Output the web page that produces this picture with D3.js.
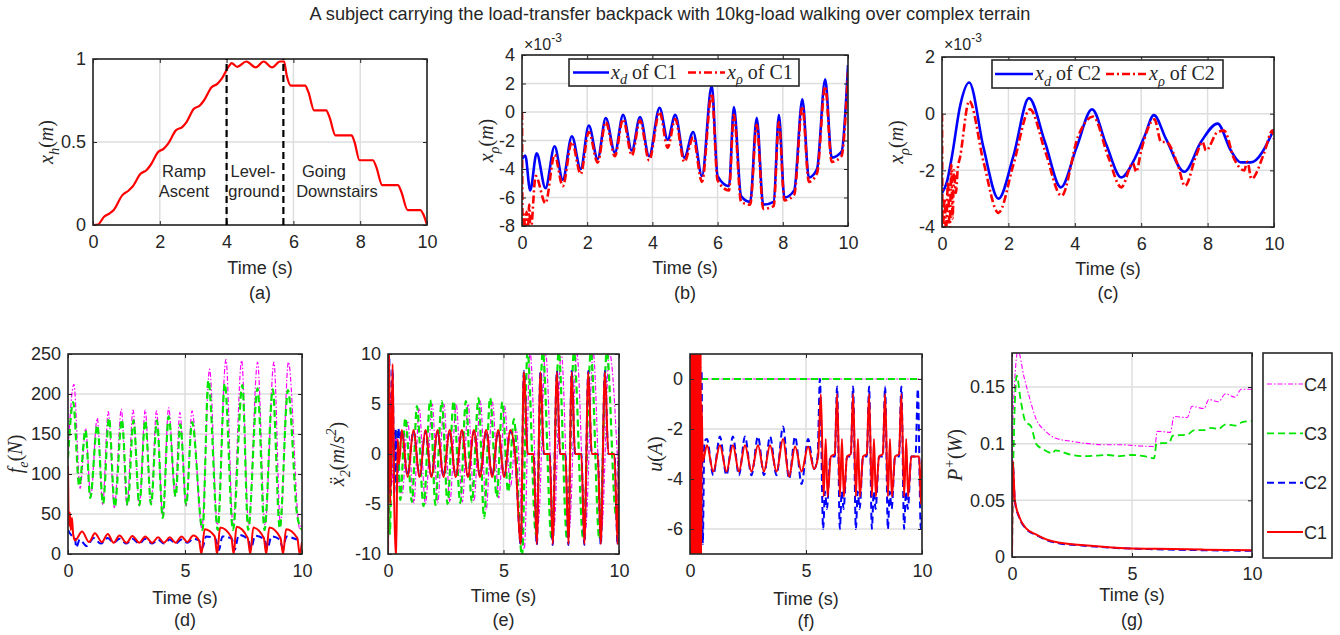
<!DOCTYPE html>
<html>
<head>
<meta charset="utf-8">
<script src="https://cdn.jsdelivr.net/npm/d3@7"></script>
<style>
body { margin: 0; background: #fff; }
text { font-family: "Liberation Sans", Arial, Helvetica, sans-serif; fill: #262626; }
</style>
</head>
<body>
<script>
// ---- data: [time (s), value] ----
var titleText = "A subject carrying the load-transfer backpack with 10kg-load walking over complex terrain";

// (a) x_h
var xhData = [[0,0],[0.15,0.003],[0.33,0.05],[0.5,0.07],[0.62,0.09],[0.88,0.18],[1.05,0.205],[1.18,0.23],[1.43,0.31],[1.6,0.33],[1.72,0.36],[1.95,0.44],[2.12,0.46],[2.25,0.49],[2.48,0.57],[2.67,0.59],[2.8,0.62],[3.02,0.70],[3.2,0.72],[3.32,0.75],[3.55,0.83],[3.72,0.85],[3.85,0.88],[4.08,0.96],[4.15,0.975],[4.32,0.953],[4.59,0.985],[4.87,0.95],[5.11,0.985],[5.36,0.95],[5.6,0.985],[5.72,0.985],[5.8,0.9],[5.92,0.84],[6.35,0.84],[6.45,0.8],[6.62,0.69],[6.98,0.69],[7.08,0.65],[7.26,0.54],[7.74,0.54],[7.83,0.5],[7.98,0.39],[8.38,0.39],[8.48,0.35],[8.66,0.24],[9.13,0.24],[9.23,0.2],[9.42,0.09],[9.8,0.09],[9.9,0.06],[10,0]];
var phaseLines = [4, 5.7];

// (b) x 1e-3
var bXd = [[0,-3.3],[0.1,-3.05],[0.25,-5.5],[0.45,-2.9],[0.72,-5.35],[1.0,-2.4],[1.25,-4.75],[1.53,-1.7],[1.8,-4.0],[2.05,-0.95],[2.32,-3.3],[2.57,-0.42],[2.85,-2.85],[3.1,-0.2],[3.37,-2.7],[3.62,-0.35],[3.9,-3.1],[4.22,0.3],[4.47,-1.95],[4.7,-0.2],[4.98,-3.2],[5.25,-1.4],[5.52,-4.5],[5.82,1.85],[6.0,-4.5],[6.35,-5.2],[6.5,0.35],[6.72,-5.9],[7.0,-6.3],[7.2,-0.4],[7.4,-6.5],[7.72,-6.3],[7.88,-0.2],[8.05,-6.0],[8.35,-5.5],[8.6,0.9],[8.8,-4.6],[9.05,-4.0],[9.3,2.3],[9.5,-3.2],[9.8,-2.8],[10,3.3]];
var bXr = [[0,0],[0.02,-8.5],[0.06,-7.2],[0.1,-8.5],[0.14,-7.0],[0.18,-8.5],[0.22,-6.5],[0.26,-8.5],[0.42,-4.5],[0.72,-6.4],[1.0,-3.0],[1.25,-5.2],[1.53,-2.1],[1.8,-4.35],[2.05,-1.4],[2.32,-3.55],[2.57,-0.7],[2.85,-3.1],[3.1,-0.5],[3.37,-3.05],[3.62,-0.6],[3.9,-3.4],[4.22,0.0],[4.47,-2.5],[4.7,-0.5],[4.98,-3.5],[5.25,-1.8],[5.52,-4.9],[5.82,1.3],[6.0,-4.8],[6.35,-5.5],[6.5,-0.2],[6.72,-6.3],[7.0,-6.5],[7.2,-0.9],[7.4,-6.8],[7.72,-6.6],[7.88,-0.7],[8.05,-6.2],[8.35,-5.8],[8.6,0.4],[8.8,-4.9],[9.05,-4.3],[9.3,1.8],[9.5,-3.5],[9.8,-3.1],[10,2.8]];

// (c) x 1e-3
var cXd = [[0,-2.8],[0.15,-2.4],[0.3,-1.5],[0.55,0.3],[0.82,1.1],[1.25,-1.2],[1.7,-3.0],[2.15,-1.5],[2.62,0.55],[3.1,-1.0],[3.58,-2.6],[4.05,-1.2],[4.52,0.15],[4.95,-1.1],[5.4,-2.25],[5.8,-1.6],[6.1,-0.8],[6.38,-0.05],[6.75,-0.9],[7.3,-2.05],[7.8,-1.0],[8.3,-0.35],[8.7,-1.3],[9.0,-1.72],[9.3,-1.72],[10,-0.55]];
var cXr = [[0,0],[0.02,-4.2],[0.08,-3.0],[0.12,-4.2],[0.18,-2.4],[0.23,-4.2],[0.28,-1.8],[0.32,-3.7],[0.36,-2.0],[0.42,-2.8],[0.47,-2.0],[0.55,-1.5],[0.82,0.45],[1.25,-1.7],[1.7,-3.5],[2.15,-1.8],[2.65,0.15],[3.1,-1.3],[3.6,-2.9],[4.1,-0.8],[4.55,-0.1],[5.0,-1.5],[5.4,-2.6],[5.75,-1.75],[5.85,-2.05],[6.0,-1.3],[6.4,-0.2],[6.6,-1.0],[6.75,-1.0],[7.1,-1.8],[7.32,-2.55],[7.65,-1.5],[7.85,-1.0],[7.95,-1.3],[8.3,-0.65],[8.5,-0.6],[8.8,-1.6],[9.1,-2.0],[9.2,-1.7],[9.32,-2.3],[9.7,-1.4],[9.95,-0.6],[10,-0.9]];

// (d) f_e
var dC4 = [[0,130],[0.25,212],[0.52,82],[0.75,157],[0.97,72],[1.25,170],[1.48,62],[1.72,178],[1.98,58],[2.28,181],[2.52,60],[2.78,180],[3.05,60],[3.3,180],[3.55,62],[3.78,179],[4.05,48],[4.3,183],[4.58,72],[4.78,177],[5.05,60],[5.3,179],[5.72,32],[6.05,231],[6.38,36],[6.75,243],[7.05,36],[7.42,242],[7.72,36],[8.1,240],[8.42,36],[8.8,240],[9.08,36],[9.42,240],[9.9,32],[10,40]];
var dC3 = [[0,120],[0.22,190],[0.48,85],[0.75,155],[0.95,70],[1.25,161],[1.5,63],[1.75,170],[2.0,59],[2.3,168],[2.55,61],[2.8,167],[3.05,61],[3.3,167],[3.55,62],[3.8,167],[4.05,45],[4.3,172],[4.6,72],[4.8,162],[5.05,61],[5.3,165],[5.75,30],[6.0,217],[6.4,30],[6.7,213],[7.05,30],[7.45,211],[7.7,30],[8.1,207],[8.4,30],[8.75,206],[9.05,32],[9.4,205],[9.8,47],[10,30]];
var dC2 = [[0,30],[0.1,25],[0.2,22],[0.3,20],[0.35,8],[0.5,18],[0.8,10],[1.1,20],[1.4,13],[1.7,20],[1.95,14],[2.2,19],[2.5,13],[2.75,19],[3.05,13],[3.3,19],[3.6,13],[3.85,18],[4.1,13],[4.35,18],[4.6,13],[4.85,18],[5.1,14],[5.35,19],[5.6,17],[5.75,8],[5.9,22],[6.3,19],[6.45,5],[6.6,22],[7.0,19],[7.12,5],[7.3,24],[7.7,18],[7.82,7],[8.0,23],[8.4,18],[8.52,7],[8.7,22],[9.05,18],[9.17,8],[9.35,22],[9.85,18],[10,20]];
var dC1 = [[0,110],[0.04,35],[0.08,52],[0.12,30],[0.17,45],[0.22,25],[0.3,17],[0.6,28],[0.9,15],[1.15,26],[1.45,15],[1.7,25],[1.95,14],[2.2,23],[2.5,14],[2.75,22.5],[3.05,14],[3.3,22],[3.6,14],[3.85,21],[4.1,14],[4.35,21],[4.6,14],[4.85,22],[5.1,15],[5.35,23],[5.6,17],[5.7,0],[5.84,31],[6.27,22],[6.37,0],[6.5,33],[6.98,21],[7.08,0],[7.2,34],[7.68,20],[7.79,0],[7.92,33],[8.37,20],[8.47,0],[8.6,33],[9.08,20],[9.19,0],[9.32,31],[9.8,20],[9.9,0],[10,15]];

// (e) x2 double-dot
var eC4 = [[0,-6],[0.1,6],[0.22,-3],[0.35,2],[0.5,-3.5],[0.62,-4],[0.85,3.3],[1.12,-4.9],[1.35,4.6],[1.62,-5],[1.92,5.0],[2.15,-4.9],[2.42,5.0],[2.68,-4.8],[2.95,5.0],[3.22,-4.8],[3.47,5.0],[3.72,-4.7],[4.0,5.3],[4.25,-5.6],[4.52,5.2],[4.8,-4.4],[5.05,4.8],[5.3,-3.3],[5.55,2.5],[5.9,-9.5],[6.15,10.2],[6.5,-7],[6.82,10.2],[7.18,-7.5],[7.5,10.2],[7.85,-7.5],[8.17,10.2],[8.55,-7.5],[8.88,10.2],[9.25,-7.5],[9.58,10.2],[10,-4]];
var eC3 = [[0,8],[0.08,-8],[0.18,4],[0.3,-3],[0.42,2.5],[0.53,-4.6],[0.75,3.6],[1.04,-4.8],[1.25,4.8],[1.54,-5.2],[1.83,5.4],[2.05,-5.1],[2.33,5.3],[2.58,-5.0],[2.84,5.3],[3.13,-4.9],[3.37,5.3],[3.63,-4.8],[3.92,5.6],[4.16,-6.4],[4.42,5.6],[4.71,-4.3],[4.95,5.2],[5.2,-3.8],[5.45,3.5],[5.8,-10.2],[6.04,10.2],[6.4,-8],[6.7,10.2],[7.08,-8.5],[7.39,10.2],[7.75,-8.5],[8.05,10.2],[8.45,-8.5],[8.78,10.2],[9.15,-8.5],[9.47,10.2],[9.85,-6],[10,-7]];
var eC2 = [[0,-10.5],[0.05,10.5],[0.1,-4],[0.2,8.5],[0.27,-4],[0.33,2.5],[0.38,-3.5],[0.45,2.6],[0.5,1.5],[0.6,2.3],[0.85,-2.2],[1.1,2.3],[1.37,-2.2],[1.62,2.3],[1.88,-2.2],[2.15,2.3],[2.4,-2.2],[2.67,2.3],[2.93,-2.2],[3.2,2.3],[3.46,-2.2],[3.72,2.3],[3.98,-2.2],[4.25,2.3],[4.51,-2.2],[4.77,2.3],[5.03,-2.2],[5.3,2.3],[5.5,0],[5.75,-9.1],[5.88,8.3],[6.05,0],[6.3,0],[6.44,-9.1],[6.6,8.3],[6.75,0],[7.0,0],[7.13,-9.1],[7.31,8.3],[7.45,0],[7.68,0],[7.81,-9.1],[7.95,8.3],[8.1,0],[8.37,0],[8.5,-9.1],[8.67,8.3],[8.82,0],[9.08,0],[9.21,-9.1],[9.39,8.3],[9.54,0],[9.8,0],[9.94,-9.1],[10,3]];
var eC1 = [[0,-10.5],[0.05,10.5],[0.1,-5],[0.2,9],[0.27,-5],[0.35,-10.5],[0.42,1.5],[0.48,-1],[0.6,2.4],[0.85,-2.3],[1.1,2.4],[1.37,-2.3],[1.62,2.4],[1.88,-2.3],[2.15,2.4],[2.4,-2.3],[2.67,2.4],[2.93,-2.3],[3.2,2.4],[3.46,-2.3],[3.72,2.4],[3.98,-2.3],[4.25,2.4],[4.51,-2.3],[4.77,2.4],[5.03,-2.3],[5.3,2.4],[5.5,0],[5.75,-9],[5.88,8.2],[6.05,0],[6.3,0],[6.44,-9],[6.6,8.2],[6.75,0],[7.0,0],[7.13,-9],[7.31,8.2],[7.45,0],[7.68,0],[7.81,-9],[7.95,8.2],[8.1,0],[8.37,0],[8.5,-9],[8.67,8.2],[8.82,0],[9.08,0],[9.21,-9],[9.39,8.2],[9.54,0],[9.8,0],[9.94,-9],[10,2]];

// (f) u
var fC4 = [[0,0],[10,0]];
var fC3 = [[0,0],[10,0]];
var fC2 = [[0,-6],[0.08,0.5],[0.16,-6.5],[0.24,0.5],[0.32,-6.5],[0.4,0.5],[0.5,0.3],[0.55,-6.6],[0.62,-2.5],[0.73,-2.4],[1.0,-3.85],[1.29,-2.3],[1.57,-3.85],[1.85,-2.3],[2.11,-3.85],[2.37,-2.3],[2.65,-3.85],[2.93,-2.3],[3.19,-3.85],[3.45,-2.3],[3.73,-3.85],[4.01,-1.9],[4.27,-4.0],[4.53,-2.3],[4.81,-4.2],[5.09,-2.4],[5.35,-3.6],[5.5,-3.1],[5.6,0],[5.74,-6],[5.82,-4.5],[5.9,-5.2],[6.05,-3.1],[6.24,-3.1],[6.34,-0.3],[6.46,-6],[6.54,-4.5],[6.62,-5.2],[6.77,-3.1],[6.93,-3.1],[7.03,-0.3],[7.15,-6],[7.23,-4.5],[7.31,-5.2],[7.46,-3.1],[7.62,-3.1],[7.72,-0.3],[7.84,-6],[7.92,-4.5],[8.0,-5.2],[8.15,-3.1],[8.31,-3.1],[8.41,-0.3],[8.53,-6],[8.61,-4.5],[8.69,-5.2],[8.84,-3.1],[9.01,-3.1],[9.11,-0.3],[9.23,-6],[9.31,-4.5],[9.39,-5.2],[9.54,-3.1],[9.72,-3.1],[9.82,-0.4],[9.95,-6],[10,-5.5]];
var fC1 = [[0,-7.5],[0.02,1.5],[0.04,-7.5],[0.06,1.5],[0.08,-7.5],[0.1,1.5],[0.12,-7.5],[0.14,1.5],[0.16,-7.5],[0.18,1.5],[0.2,-7.5],[0.22,1.5],[0.24,-7.5],[0.26,1.5],[0.28,-7.5],[0.3,1.5],[0.32,-7.5],[0.34,1.5],[0.36,-7.5],[0.38,1.5],[0.4,-7.5],[0.42,1.5],[0.44,-7.5],[0.46,1.5],[0.48,-7.5],[0.5,-1],[0.55,-3.3],[0.73,-2.65],[1.0,-3.7],[1.29,-2.65],[1.57,-3.7],[1.85,-2.65],[2.11,-3.7],[2.37,-2.65],[2.65,-3.7],[2.93,-2.65],[3.19,-3.7],[3.45,-2.65],[3.73,-3.7],[4.01,-2.4],[4.27,-3.9],[4.53,-2.7],[4.81,-3.7],[5.09,-2.7],[5.35,-3.6],[5.52,-3.1],[5.64,-0.6],[5.76,-4.7],[5.85,-2.4],[5.93,-4.7],[6.07,-3.1],[6.24,-3.0],[6.34,-0.6],[6.46,-4.7],[6.55,-2.4],[6.63,-4.7],[6.77,-3.1],[6.93,-3.0],[7.03,-0.6],[7.15,-4.7],[7.24,-2.4],[7.32,-4.7],[7.46,-3.1],[7.62,-3.0],[7.72,-0.6],[7.84,-4.7],[7.93,-2.4],[8.01,-4.7],[8.15,-3.1],[8.31,-3.0],[8.41,-0.6],[8.53,-4.7],[8.62,-2.4],[8.7,-4.7],[8.84,-3.1],[9.01,-3.0],[9.11,-0.6],[9.23,-4.7],[9.32,-2.4],[9.4,-4.7],[9.54,-3.1],[9.88,-3.1],[9.95,-5],[10,-3.2]];

// (g) P+
var gC4 = [[0,0],[0.02,0.104],[0.1,0.15],[0.25,0.182],[0.5,0.159],[0.75,0.139],[1.0,0.122],[1.4,0.111],[1.8,0.105],[2.5,0.102],[3.2,0.1],[3.9,0.099],[4.6,0.099],[5.3,0.098],[5.95,0.0975],[6.05,0.111],[6.6,0.11],[6.75,0.124],[7.3,0.123],[7.5,0.133],[8.0,0.131],[8.2,0.139],[8.6,0.137],[8.9,0.144],[9.3,0.141],[9.55,0.148],[10,0.148]];
var gC3 = [[0,0],[0.03,0.055],[0.2,0.16],[0.35,0.14],[0.55,0.12],[0.8,0.115],[1.0,0.1],[1.3,0.095],[1.7,0.0915],[1.8,0.094],[2.5,0.09],[3.0,0.089],[3.5,0.0895],[4.0,0.09],[4.5,0.089],[5.0,0.09],[5.5,0.089],[5.92,0.087],[6.02,0.1],[6.55,0.101],[6.7,0.107],[7.3,0.108],[7.6,0.112],[8.0,0.112],[8.3,0.114],[8.6,0.113],[8.9,0.117],[9.3,0.116],[9.6,0.119],[10,0.12]];
var gC2 = [[0,0],[0.03,0.083],[0.12,0.049],[0.3,0.035],[0.6,0.0245],[1.0,0.0195],[1.5,0.0145],[2.0,0.012],[3.0,0.01],[4.5,0.0078],[6.0,0.0068],[8.0,0.006],[10,0.0055]];
var gC1 = [[0,0],[0.03,0.085],[0.12,0.05],[0.3,0.0355],[0.6,0.025],[1.0,0.02],[1.5,0.015],[2.0,0.0125],[3.0,0.0103],[4.5,0.008],[6.0,0.0072],[8.0,0.0065],[10,0.006]];

var ticks10by2 = [0, 2, 4, 6, 8, 10];
var ticks10by5 = [0, 5, 10];
var caseNames = ["C4", "C3", "C2", "C1"];

// ---- drawing ----
var width = 1340, height = 635;
var svg = d3.select("body").append("svg").attr("width", width).attr("height", height);
svg.append("rect").attr("width", width).attr("height", height).attr("fill", "#fff");

var sty = {
  C1: { color: "#ff0000", w: 2, dash: null },
  C2: { color: "#0000ff", w: 2, dash: "7,4" },
  C3: { color: "#00e600", w: 2.2, dash: "7,4" },
  C4: { color: "#ff00ff", w: 1.2, dash: "5,2,1.5,2" }
};

// math-ish label: parts = [text, kind] kind: r roman, i italic, sub, sup
function addMath(t, parts, fs) {
  var shift = 0;
  parts.forEach(function(p) {
    var s = t.append("tspan").text(p[0]);
    var target = p[1] == "sub" ? fs * 0.28 : p[1] == "sup" ? -fs * 0.4 : 0;
    if (target != shift) s.attr("dy", target - shift);
    shift = target;
    if (p[1] == "sub" || p[1] == "sup") s.attr("font-size", fs * 0.72);
    if (p[1] != "r") s.attr("font-style", "italic");
  });
}

function styleAxis(a) {
  a.select(".domain").remove();
  a.selectAll("line").attr("stroke", "#262626");
  a.selectAll("text").attr("font-size", 18).attr("fill", "#262626")
    .attr("font-family", "'Liberation Sans', Arial, sans-serif");
}

function panel(o) {
  var x = d3.scaleLinear().domain([0, 10]).range([o.l, o.r]);
  var y = d3.scaleLinear().domain(o.yd).range([o.b, o.t]);
  var g = svg.append("g");

  // grid
  g.append("g").selectAll("line").data(o.xt).enter().append("line")
    .attr("x1", x).attr("x2", x).attr("y1", o.t).attr("y2", o.b)
    .attr("stroke", "#dedede").attr("stroke-width", 1.5);
  g.append("g").selectAll("line").data(o.yt).enter().append("line")
    .attr("y1", y).attr("y2", y).attr("x1", o.l).attr("x2", o.r)
    .attr("stroke", "#dedede").attr("stroke-width", 1.5);

  svg.append("clipPath").attr("id", "clip-" + o.id).append("rect")
    .attr("x", o.l).attr("y", o.t).attr("width", o.r - o.l).attr("height", o.b - o.t);

  var line = d3.line().x(function(d) { return x(d[0]); }).y(function(d) { return y(d[1]); })
    .curve(d3.curveMonotoneX);
  var plot = g.append("g").attr("clip-path", "url(#clip-" + o.id + ")");
  o.series.forEach(function(s) {
    plot.append("path").attr("d", line(s.data)).attr("fill", "none")
      .attr("stroke", s.color).attr("stroke-width", s.w)
      .attr("stroke-dasharray", s.dash).attr("stroke-linejoin", "round");
  });

  var fmt = function(d) { return String(d); };
  g.append("g").attr("transform", "translate(0," + o.b + ")")
    .call(d3.axisBottom(x).tickValues(o.xt).tickFormat(fmt).tickSizeInner(-4).tickSizeOuter(0).tickPadding(10))
    .call(styleAxis);
  g.append("g").attr("transform", "translate(0," + o.t + ")")
    .call(d3.axisTop(x).tickValues(o.xt).tickFormat("").tickSizeInner(-4).tickSizeOuter(0))
    .call(styleAxis);
  g.append("g").attr("transform", "translate(" + o.l + ",0)")
    .call(d3.axisLeft(y).tickValues(o.yt).tickFormat(fmt).tickSizeInner(-4).tickSizeOuter(0).tickPadding(7))
    .call(styleAxis);
  g.append("g").attr("transform", "translate(" + o.r + ",0)")
    .call(d3.axisRight(y).tickValues(o.yt).tickFormat("").tickSizeInner(-4).tickSizeOuter(0))
    .call(styleAxis);

  g.append("rect").attr("x", o.l).attr("y", o.t).attr("width", o.r - o.l).attr("height", o.b - o.t)
    .attr("fill", "none").attr("stroke", "#262626").attr("stroke-width", 1.6);

  var yl = g.append("text")
    .attr("transform", "translate(" + o.yx + "," + ((o.t + o.b) / 2) + ") rotate(-90)")
    .attr("text-anchor", "middle").attr("font-size", 20).attr("fill", "#555")
    .style("font-family", "'Liberation Serif', 'Times New Roman', serif");
  addMath(yl, o.ylab, 20);

  var mid = (o.l + o.r) / 2;
  g.append("text").attr("x", mid).attr("y", o.timeY + 6).attr("text-anchor", "middle")
    .attr("font-size", 18).text("Time (s)");
  g.append("text").attr("x", mid).attr("y", o.capY + 6).attr("text-anchor", "middle")
    .attr("font-size", 18).text("(" + o.id + ")");
  return { g: g, x: x, y: y };
}

function caseSeries(arrs) {
  return arrs.map(function(a, i) {
    var s = sty[caseNames[i]];
    return { data: a, color: s.color, w: s.w, dash: s.dash };
  });
}

// title
svg.append("text").attr("x", 670).attr("y", 20).attr("text-anchor", "middle")
  .attr("font-size", 18.2).text(titleText);

// (a)
var pa = panel({ id: "a", l: 93, r: 427, t: 59, b: 225, yd: [0, 1], xt: ticks10by2, yt: [0, 0.5, 1],
  yx: 53, timeY: 268, capY: 293,
  ylab: [["x", "i"], ["h", "sub"], ["(", "r"], ["m", "i"], [")", "r"]],
  series: [{ data: xhData, color: "#ff0000", w: 2.2 }] });
pa.g.selectAll(".phase").data(phaseLines).enter().append("line")
  .attr("x1", pa.x).attr("x2", pa.x).attr("y1", pa.y(0)).attr("y2", pa.y(1))
  .attr("stroke", "#000").attr("stroke-width", 2.2).attr("stroke-dasharray", "7,4");
[["Ramp", 184, 177], ["Ascent", 184, 197], ["Level-", 253, 177], ["ground", 254, 197],
 ["Going", 324, 177], ["Downstairs", 337, 197]].forEach(function(t) {
  pa.g.append("text").attr("x", t[1]).attr("y", t[2]).attr("text-anchor", "middle")
    .attr("font-size", 16.5).text(t[0]);
});

function expLabel(x0) {
  var t = svg.append("text").attr("x", x0).attr("y", 50).attr("font-size", 16);
  t.append("tspan").text("\u00d710");
  t.append("tspan").attr("dy", -8).attr("font-size", 12).text("-3");
}

function legend2(bx, by, bw, bh, items) {
  var g = svg.append("g");
  g.append("rect").attr("x", bx).attr("y", by).attr("width", bw).attr("height", bh)
    .attr("fill", "#fff").attr("stroke", "#262626").attr("stroke-width", 1.6);
  var cy = by + bh / 2;
  items.forEach(function(it) {
    g.append("line").attr("x1", it.x1).attr("x2", it.x2).attr("y1", cy).attr("y2", cy)
      .attr("stroke", it.color).attr("stroke-width", it.w).attr("stroke-dasharray", it.dash);
    var t = g.append("text").attr("x", it.tx).attr("y", cy + 6).attr("font-size", 20)
      .style("font-family", "'Liberation Serif', 'Times New Roman', serif");
    addMath(t, it.parts, 20);
  });
}

var xdStyle = { color: "#0000ff", w: 2.6, dash: null };
var xrStyle = { color: "#ff0000", w: 2.6, dash: "8,3,2,3" };

// (b)
panel({ id: "b", l: 522, r: 848, t: 55, b: 226, yd: [-8, 4], xt: ticks10by2, yt: [-8, -6, -4, -2, 0, 2, 4],
  yx: 493, timeY: 268, capY: 293,
  ylab: [["x", "i"], ["\u03c1", "sub"], ["(", "r"], ["m", "i"], [")", "r"]],
  series: [{ data: bXd, color: xdStyle.color, w: xdStyle.w },
           { data: bXr, color: xrStyle.color, w: xrStyle.w, dash: xrStyle.dash }] });
expLabel(524);
legend2(569, 59, 230, 27, [
  { x1: 573, x2: 609, tx: 611, color: xdStyle.color, w: 2.6, parts: [["x", "i"], ["d", "sub"], [" of C1", "r"]] },
  { x1: 688, x2: 725, tx: 727, color: xrStyle.color, w: 2.6, dash: xrStyle.dash, parts: [["x", "i"], ["\u03c1", "sub"], [" of C1", "r"]] }
]);

// (c)
panel({ id: "c", l: 942, r: 1274, t: 57, b: 227, yd: [-4, 2], xt: ticks10by2, yt: [-4, -2, 0, 2],
  yx: 903, timeY: 269, capY: 293,
  ylab: [["x", "i"], ["\u03c1", "sub"], ["(", "r"], ["m", "i"], [")", "r"]],
  series: [{ data: cXd, color: xdStyle.color, w: xdStyle.w },
           { data: cXr, color: xrStyle.color, w: xrStyle.w, dash: xrStyle.dash }] });
expLabel(944);
legend2(992, 60, 231, 28, [
  { x1: 995, x2: 1033, tx: 1035, color: xdStyle.color, w: 2.6, parts: [["x", "i"], ["d", "sub"], [" of C2", "r"]] },
  { x1: 1106, x2: 1147, tx: 1149, color: xrStyle.color, w: 2.6, dash: xrStyle.dash, parts: [["x", "i"], ["\u03c1", "sub"], [" of C2", "r"]] }
]);

// (d)
panel({ id: "d", l: 68, r: 302, t: 354, b: 554, yd: [0, 250], xt: ticks10by5, yt: [0, 50, 100, 150, 200, 250],
  yx: 22, timeY: 598, capY: 620,
  ylab: [["f", "i"], ["e", "sub"], ["(", "r"], ["N", "i"], [")", "r"]],
  series: caseSeries([dC4, dC3, dC2, dC1]) });

// (e)
panel({ id: "e", l: 388, r: 619, t: 354, b: 554, yd: [-10, 10], xt: ticks10by5, yt: [-10, -5, 0, 5, 10],
  yx: 344, timeY: 596, capY: 620,
  ylab: [["\u1e8d", "i"], ["2", "sub"], ["(", "r"], ["m", "i"], ["/", "r"], ["s", "i"], ["2", "sup"], [")", "r"]],
  series: caseSeries([eC4, eC3, eC2, eC1]) });

// (f)
panel({ id: "f", l: 690, r: 922, t: 354, b: 554, yd: [-7, 1], xt: ticks10by5, yt: [-6, -4, -2, 0],
  yx: 662, timeY: 599, capY: 621,
  ylab: [["u", "i"], ["(", "r"], ["A", "i"], [")", "r"]],
  series: caseSeries([fC4, fC3, fC2, fC1]) });

// (g)
var gSeries = caseSeries([gC4, gC3, gC2, gC1]);
gSeries[0].w = 1.1; gSeries[1].w = 1.8;
panel({ id: "g", l: 1012, r: 1252, t: 353, b: 557, yd: [0, 0.18], xt: ticks10by5, yt: [0, 0.05, 0.1, 0.15],
  yx: 962, timeY: 595, capY: 620,
  ylab: [["P", "i"], ["+", "sup"], ["(", "r"], ["W", "i"], [")", "r"]],
  series: gSeries });

// legend (g)
var lg = svg.append("g");
lg.append("rect").attr("x", 1263).attr("y", 353).attr("width", 69).attr("height", 205)
  .attr("fill", "#fff").attr("stroke", "#262626").attr("stroke-width", 1.6);
var legY = d3.scalePoint().domain(caseNames).range([384, 532]);
caseNames.forEach(function(c, i) {
  var s = gSeries[i];
  lg.append("line").attr("x1", 1267).attr("x2", 1303).attr("y1", legY(c)).attr("y2", legY(c))
    .attr("stroke", s.color).attr("stroke-width", s.w).attr("stroke-dasharray", s.dash);
  lg.append("text").attr("x", 1304).attr("y", legY(c) + 6.5).attr("font-size", 18).text(c);
});
</script>
</body>
</html>
